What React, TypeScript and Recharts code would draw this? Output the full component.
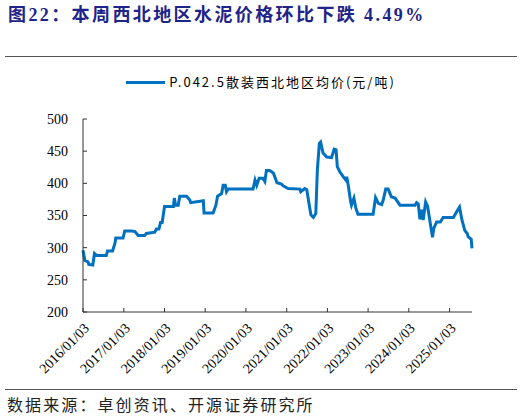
import React from 'react';
import { LineChart, Line, XAxis, YAxis, Legend } from 'recharts';

const dates: string[] = [
  '2016-01-03','2016-01-20','2016-02-17','2016-02-24','2016-03-31','2016-04-15','2016-05-04','2016-07-30','2016-08-10','2016-09-24',
  '2016-10-16','2016-10-23','2016-12-27','2017-01-11','2017-03-15','2017-04-13','2017-05-12','2017-07-09','2017-07-24','2017-10-08',
  '2017-10-23','2017-11-14','2017-11-28','2017-12-13','2018-01-03','2018-03-24','2018-04-01','2018-04-13','2018-05-06','2018-05-20',
  '2018-07-20','2018-08-18','2018-08-26','2018-12-17','2018-12-24','2019-03-15','2019-04-09','2019-04-24','2019-05-30','2019-06-13',
  '2019-07-02','2019-07-13','2019-07-27','2020-03-07','2020-03-25','2020-04-09','2020-05-01','2020-06-03','2020-06-21','2020-07-05',
  '2020-08-04','2020-09-05','2020-10-08','2020-11-17','2020-12-02','2021-01-16','2021-05-02','2021-05-09','2021-06-14','2021-07-02',
  '2021-07-17','2021-08-08','2021-08-30','2021-09-21','2021-10-05','2021-10-23','2021-11-03','2021-11-25','2021-12-28','2022-02-10',
  '2022-03-04','2022-03-22','2022-04-02','2022-04-24','2022-05-31','2022-06-18','2022-06-25','2022-07-09','2022-07-31','2022-08-07',
  '2022-08-29','2022-09-16','2022-10-04','2023-02-17','2023-03-11','2023-04-05','2023-05-05','2023-05-19','2023-06-10','2023-07-02',
  '2023-07-31','2023-09-02','2023-10-16','2024-02-28','2024-03-13','2024-03-28','2024-04-12','2024-04-26','2024-05-11','2024-06-02',
  '2024-06-20','2024-07-09','2024-08-03','2024-08-14','2024-09-09','2024-10-12','2024-11-06','2025-02-06','2025-03-08','2025-04-02',
  '2025-04-24','2025-05-19','2025-06-10','2025-06-18','2025-07-16','2025-07-23',
];

const prices: number[] = [
  296,280,278,274,273,291,288,288,295,295,
  307,315,315,326,326,325,319,319,322,324,
  329,329,339,339,364,364,377,366,366,380,
  380,374,370,373,354,354,366,380,384,397,
  397,387,391,391,405,397,408,408,403,420,
  420,416,401,399,396,392,391,387,392,390,
  374,351,347,353,421,462,464,447,441,440,
  453,452,426,418,409,405,410,397,371,366,
  377,361,352,352,378,369,367,374,391,391,
  379,377,366,366,370,368,344,359,343,371,
  364,343,316,330,340,340,347,347,356,363,
  343,327,322,317,313,299,
];

const tickDates: string[] = [
  '2016-01-03','2017-01-03','2018-01-03','2019-01-03','2020-01-03',
  '2021-01-03','2022-01-03','2023-01-03','2024-01-03','2025-01-03',
];

const yTicks: number[] = [200, 250, 300, 350, 400, 450, 500];

const seriesName = 'P.042.5散装西北地区均价(元/吨)';
const titleText = '图22：本周西北地区水泥价格环比下跌 4.49%';
const sourceText = '数据来源：卓创资讯、开源证券研究所';

const toTs = (d: string) => Date.parse(d + 'T00:00:00Z');

const data = dates.map((d, i) => ({ t: toTs(d), v: prices[i] }));
const xTicks = tickDates.map(toTs);

const fmtTick = (ts: number) => {
  const d = new Date(ts);
  const y = d.getUTCFullYear();
  const m = String(d.getUTCMonth() + 1).padStart(2, '0');
  const day = String(d.getUTCDate()).padStart(2, '0');
  return `${y}/${m}/${day}`;
};

const LegendContent = () => (
  <div style={{ display: 'flex', alignItems: 'center', justifyContent: 'center', width: 522 }}>
    <div style={{ width: 39, height: 3, background: '#0070C0', marginRight: 4 }} />
    <span style={{ fontFamily: "'Noto Sans CJK SC'", fontSize: 13, color: '#000', letterSpacing: 2, lineHeight: '16px' }}>
      {seriesName}
    </span>
  </div>
);

const tickStyle = { fill: '#000', fontSize: 13, fontFamily: "'Liberation Serif', serif" };

export default function App() {
  return (
    <div style={{ position: 'absolute', left: 0, top: 0, width: 522, height: 417, background: '#fff', overflow: 'hidden' }}>
      <div
        style={{
          position: 'absolute', left: 8, top: 4, fontSize: 18, fontWeight: 'bold', color: '#1E2488',
          fontFamily: "'Liberation Serif', 'Noto Sans CJK SC'", letterSpacing: 2.4, lineHeight: '22px', whiteSpace: 'nowrap',
        }}
      >
        {titleText}
      </div>
      <div style={{ position: 'absolute', left: 5, top: 56, width: 512, height: 1, background: '#555' }} />
      <div style={{ position: 'absolute', left: 5, top: 389, width: 512, height: 1, background: '#555' }} />
      <div
        style={{
          position: 'absolute', left: 7, top: 394, fontSize: 16, color: '#222',
          fontFamily: "'Noto Sans CJK SC'", letterSpacing: 2.1, lineHeight: '20px', whiteSpace: 'nowrap',
        }}
      >
        {sourceText}
      </div>
      <div style={{ position: 'absolute', left: 0, top: 0 }}>
        <LineChart width={522} height={417} data={data} margin={{ top: 119, right: 50, bottom: 45, left: 43 }}>
          <XAxis
            dataKey="t"
            type="number"
            scale="linear"
            domain={[data[0].t, data[data.length - 1].t]}
            ticks={xTicks}
            tickFormatter={fmtTick}
            height={60}
            interval={0}
            tickSize={-4}
            tickMargin={14}
            angle={-45}
            textAnchor="end"
            stroke="#333"
            tick={{ ...tickStyle, fontSize: 14 }}
          />
          <YAxis
            domain={[200, 500]}
            ticks={yTicks}
            width={40}
            interval={0}
            tickSize={-4}
            tickMargin={19}
            stroke="#333"
            tick={{ ...tickStyle, fontSize: 14 }}
          />
          <Legend
            layout="horizontal"
            verticalAlign="middle"
            align="center"
            wrapperStyle={{ top: 74, left: 0, width: 522 }}
            content={LegendContent}
          />
          <Line
            type="linear"
            dataKey="v"
            name={seriesName}
            stroke="#0070C0"
            strokeWidth={3}
            dot={false}
            isAnimationActive={false}
          />
        </LineChart>
      </div>
    </div>
  );
}
